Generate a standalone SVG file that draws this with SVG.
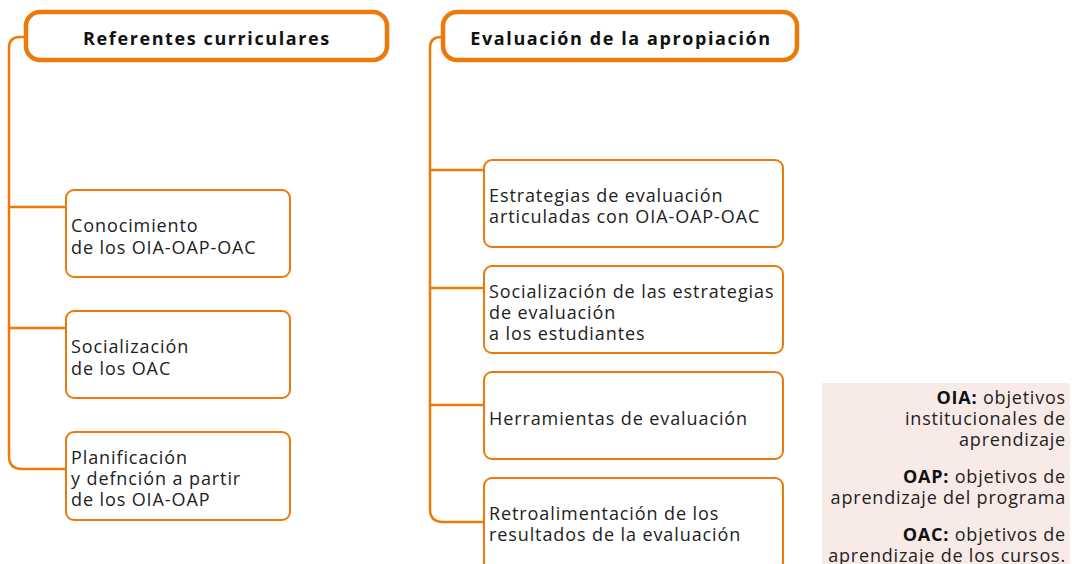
<svg xmlns="http://www.w3.org/2000/svg" width="1072" height="564" viewBox="0 0 1072 564">
<style>
.title{fill:#fff;stroke:#ec7a0a;stroke-width:4.5}
.box{fill:#fff;stroke:#ec7a0a;stroke-width:2}
.conn{fill:none;stroke:#ec7a0a;stroke-width:2.5}
.tt{font-family:"Open Sans",sans-serif;font-weight:700;font-size:18px;fill:#111;letter-spacing:1.6px;text-anchor:middle}
.t{font-family:"Open Sans",sans-serif;font-size:18px;fill:#222;letter-spacing:0.9px}
.lg{font-family:"Open Sans",sans-serif;font-size:18px;fill:#222;letter-spacing:0.8px;text-anchor:end}
.lg tspan.b{font-weight:700;fill:#111}
</style>
<rect width="1072" height="564" fill="#fff"/>
<g id="connectors">
<path class="conn" d="M26,37 H20 Q9,37 9,48 V456 Q9,469 22,469 H66"/>
<path class="conn" d="M9,207 H66"/>
<path class="conn" d="M9,328 H66"/>
<path class="conn" d="M443,37 H441 Q430,37 430,48 V509 Q430,522 443,522 H484"/>
<path class="conn" d="M430,170 H484"/>
<path class="conn" d="M430,288 H484"/>
<path class="conn" d="M430,405 H484"/>
</g>
<g id="n-referentes">
<rect class="title" x="26" y="12" width="361" height="48" rx="14"/>
<text class="tt" x="207" y="45">Referentes curriculares</text>
</g>
<g id="n-evaluacion">
<rect class="title" x="443" y="12" width="354" height="48" rx="14"/>
<text class="tt" x="621" y="45">Evaluación de la apropiación</text>
</g>
<g id="n-conocimiento">
<rect class="box" x="66" y="190" width="224" height="87" rx="8"/>
<text class="t" x="71" y="232">Conocimiento<tspan x="71" dy="22">de los OIA-OAP-OAC</tspan></text>
</g>
<g id="n-socializacion">
<rect class="box" x="66" y="311" width="224" height="87" rx="8"/>
<text class="t" x="71" y="353">Socialización<tspan x="71" dy="22">de los OAC</tspan></text>
</g>
<g id="n-planificacion">
<rect class="box" x="66" y="432" width="224" height="88" rx="8"/>
<text class="t" x="71" y="464">Planificación<tspan x="71" dy="21">y defnción a partir</tspan><tspan x="71" dy="21">de los OIA-OAP</tspan></text>
</g>
<g id="n-estrategias">
<rect class="box" x="484" y="160" width="299" height="87" rx="8"/>
<text class="t" x="489" y="202">Estrategias de evaluación<tspan x="489" dy="21">articuladas con OIA-OAP-OAC</tspan></text>
</g>
<g id="n-socializacion-estrategias">
<rect class="box" x="484" y="266" width="299" height="87" rx="8"/>
<text class="t" x="489" y="298">Socialización de las estrategias<tspan x="489" dy="21">de evaluación</tspan><tspan x="489" dy="21">a los estudiantes</tspan></text>
</g>
<g id="n-herramientas">
<rect class="box" x="484" y="372" width="299" height="87" rx="8"/>
<text class="t" x="489" y="425">Herramientas de evaluación</text>
</g>
<g id="n-retroalimentacion">
<rect class="box" x="484" y="478" width="299" height="92" rx="8"/>
<text class="t" x="489" y="520">Retroalimentación de los<tspan x="489" dy="21">resultados de la evaluación</tspan></text>
</g>
<g id="legend">
<rect x="822" y="383" width="248" height="181" fill="#f8ebe7"/>
<text class="lg" x="1066" y="404"><tspan class="b">OIA:</tspan> objetivos<tspan x="1066" dy="21">institucionales de</tspan><tspan x="1066" dy="21">aprendizaje</tspan></text>
<text class="lg" x="1066" y="483"><tspan class="b">OAP:</tspan> objetivos de<tspan x="1066" dy="21">aprendizaje del programa</tspan></text>
<text class="lg" x="1066" y="541"><tspan class="b">OAC:</tspan> objetivos de<tspan x="1066" dy="21">aprendizaje de los cursos.</tspan></text>
</g>
</svg>
